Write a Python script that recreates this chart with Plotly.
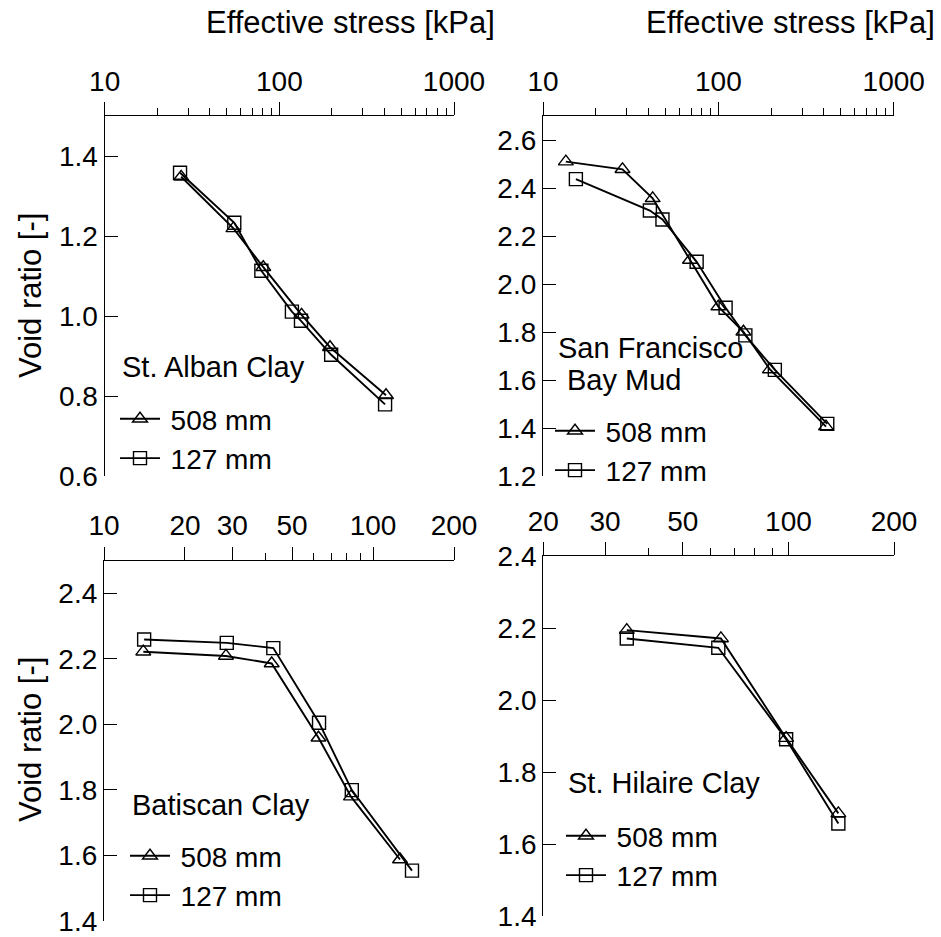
import plotly.graph_objects as go

FONT = "Liberation Sans, Arial, sans-serif"

# ---------------- data ----------------
panel_names = ["St. Alban Clay", "San Francisco", "Batiscan Clay", "St. Hilaire Clay"]
series_names = ["508 mm", "127 mm"]

alban_508_x = [27.4, 54.6, 80.9, 134, 195, 408]
alban_508_y = [1.348, 1.219, 1.122, 1.003, 0.922, 0.802]
alban_127_x = [27.0, 55.2, 78.9, 118, 133, 198, 403]
alban_127_y = [1.358, 1.233, 1.113, 1.011, 0.988, 0.903, 0.779]

sf_508_x = [13.5, 28.4, 42.2, 68.9, 100, 139, 197, 411]
sf_508_y = [2.51, 2.478, 2.357, 2.10, 1.906, 1.801, 1.644, 1.406]
sf_127_x = [15.4, 40.7, 48, 75.2, 110, 142.6, 210, 418]
sf_127_y = [2.437, 2.306, 2.269, 2.093, 1.901, 1.786, 1.642, 1.417]

bat_508_x = [14.0, 28.4, 42.0, 62.7, 82.8, 126]
bat_508_y = [2.222, 2.209, 2.186, 1.959, 1.779, 1.587]
bat_127_x = [14.1, 28.6, 42.6, 63.0, 83.4, 139.6]
bat_127_y = [2.259, 2.249, 2.233, 2.005, 1.799, 1.553]

hil_508_x = [34.6, 64.2, 98.5, 138.8]
hil_508_y = [2.194, 2.171, 1.894, 1.685]
hil_127_x = [34.6, 63.1, 98.5, 138.8]
hil_127_y = [2.171, 2.145, 1.891, 1.657]

# tick labels
top_xticks = [10, 100, 1000]
top_xminor = [20, 30, 40, 50, 60, 70, 80, 90, 200, 300, 400, 500, 600, 700, 800, 900]
bat_xticks = [10, 20, 30, 50, 100, 200]
bat_xminor = [40, 60, 70, 80, 90]
hil_xticks = [20, 30, 50, 100, 200]
hil_xminor = [40, 60, 70, 80, 90]

alban_yticks = [0.6, 0.8, 1.0, 1.2, 1.4]
sf_yticks = [1.2, 1.4, 1.6, 1.8, 2.0, 2.2, 2.4, 2.6]
bat_yticks = [1.4, 1.6, 1.8, 2.0, 2.2, 2.4]
hil_yticks = [1.4, 1.6, 1.8, 2.0, 2.2, 2.4]

# ---------------- figure ----------------
W, H = 941, 937
fig = go.Figure()

panels = [
    dict(xs=(alban_508_x, alban_127_x), ys=(alban_508_y, alban_127_y),
         xr=[1, 3], yr=[0.6, 1.5], xt=top_xticks, xm=top_xminor, yt=alban_yticks,
         px=(104.7, 454), py=(116, 476), leg=(115, 394)),
    dict(xs=(sf_508_x, sf_127_x), ys=(sf_508_y, sf_127_y),
         xr=[1, 3], yr=[1.2, 2.7], xt=top_xticks, xm=top_xminor, yt=sf_yticks,
         px=(543, 893.7), py=(116, 476), leg=(550, 406)),
    dict(xs=(bat_508_x, bat_127_x), ys=(bat_508_y, bat_127_y),
         xr=[1, 2.30103], yr=[1.4, 2.5], xt=bat_xticks, xm=bat_xminor, yt=bat_yticks,
         px=(104, 454), py=(560.7, 920.7), leg=(125, 831)),
    dict(xs=(hil_508_x, hil_127_x), ys=(hil_508_y, hil_127_y),
         xr=[1.30103, 2.30103], yr=[1.4, 2.4], xt=hil_xticks, xm=hil_xminor, yt=hil_yticks,
         px=(543.3, 894), py=(556, 916), leg=(561, 811)),
]

symbols = ["triangle-up-open", "square-open"]

for i, p in enumerate(panels):
    n = i + 1
    xa = "x" if n == 1 else f"x{n}"
    ya = "y" if n == 1 else f"y{n}"
    lg = "legend" if n == 1 else f"legend{n}"
    for k in range(2):
        fig.add_trace(go.Scatter(
            x=p["xs"][k], y=p["ys"][k], xaxis=xa, yaxis=ya,
            mode="lines+markers", name="\u2009" + series_names[k], legend=lg,
            legendgroup=f"{n}-{k}",
            line=dict(color="black", width=1.9),
            marker=dict(symbol=symbols[k], size=13, color="black",
                        line=dict(color="black", width=1.4)),
        ))
    xkey = "xaxis" if n == 1 else f"xaxis{n}"
    ykey = "yaxis" if n == 1 else f"yaxis{n}"
    fig.update_layout(**{
        xkey: dict(
            type="log", range=p["xr"], domain=[p["px"][0] / W, p["px"][1] / W],
            anchor=ya, side="top", showline=True, linecolor="black", linewidth=1.3,
            showgrid=False, zeroline=False, ticks="outside", ticklen=13, tickwidth=1.3,
            tickcolor="black", tickmode="array", tickvals=p["xt"],
            ticktext=[str(v) for v in p["xt"]], automargin=False,
            tickfont=dict(family=FONT, size=28, color="black"),
            minor=dict(tickmode="array", tickvals=p["xm"], ticks="outside", ticklen=7,
                       tickwidth=1.3, tickcolor="black", showgrid=False),
        ),
        ykey: dict(
            range=p["yr"], domain=[1 - p["py"][1] / H, 1 - p["py"][0] / H],
            anchor=xa, side="left", showline=True, linecolor="black", linewidth=1.3,
            showgrid=False, zeroline=False, ticks="inside", ticklen=13, tickwidth=1.3,
            tickcolor="black", tickmode="array", tickvals=p["yt"],
            ticktext=[f"{v:.1f}" for v in p["yt"]], automargin=False,
            tickfont=dict(family=FONT, size=28, color="black"),
        ),
        lg: dict(
            x=p["leg"][0] / W, y=1 - p["leg"][1] / H, xanchor="left", yanchor="top",
            bgcolor="rgba(0,0,0,0)", borderwidth=0,
            font=dict(family=FONT, size=28, color="black"),
            tracegroupgap=0, itemwidth=40,
        ),
    })

annotations = [
    dict(text="Effective stress [kPa]", x=350 / W, y=1 - 22 / H, size=31, angle=0, xa="center"),
    dict(text="Effective stress [kPa]", x=790 / W, y=1 - 22 / H, size=31, angle=0, xa="center"),
    dict(text="Void ratio [-]", x=30 / W, y=1 - 296 / H, size=31, angle=-90, xa="center"),
    dict(text="Void ratio [-]", x=30 / W, y=1 - 740 / H, size=31, angle=-90, xa="center"),
    dict(text=panel_names[0], x=120 / W, y=1 - 367 / H, size=29, angle=0, xa="left"),
    dict(text=panel_names[1], x=556 / W, y=1 - 348 / H, size=29, angle=0, xa="left"),
    dict(text="Bay Mud", x=565 / W, y=1 - 380 / H, size=29, angle=0, xa="left"),
    dict(text=panel_names[2], x=130 / W, y=1 - 805 / H, size=29, angle=0, xa="left"),
    dict(text=panel_names[3], x=566 / W, y=1 - 783 / H, size=29, angle=0, xa="left"),
]
fig.update_layout(annotations=[
    dict(text=a["text"], x=a["x"], y=a["y"], xref="paper", yref="paper",
         xanchor=a["xa"], yanchor="middle", textangle=a["angle"], showarrow=False,
         font=dict(family=FONT, size=a["size"], color="black"))
    for a in annotations
])

fig.update_layout(
    width=W, height=H, margin=dict(l=0, r=0, t=0, b=0, pad=0, autoexpand=False),
    paper_bgcolor="white", plot_bgcolor="white",
    font=dict(family=FONT, color="black"),
)

fig.write_html("out.html", config={"displayModeBar": False},
               post_script="document.body.style.margin='0';")
